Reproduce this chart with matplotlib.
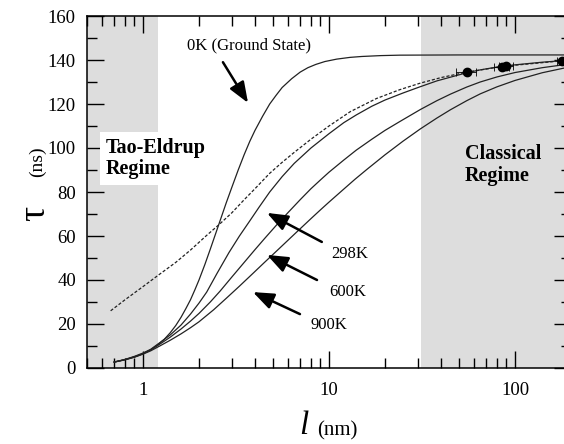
import matplotlib
matplotlib.use("Agg")
import matplotlib.pyplot as plt
import numpy as np

plt.rcParams["font.family"] = ["Liberation Serif", "DejaVu Serif"]

# curves: pore size l (nm) vs lifetime tau (ns)
l_0k = [0.7, 0.8, 0.9, 1.0, 1.1, 1.2, 1.3, 1.4, 1.5, 1.6, 1.7, 1.8, 1.9, 2.0, 2.15, 2.3, 2.55, 2.8,
        3.0, 3.25, 3.5, 3.75, 4.0, 4.4, 4.8, 5.2, 5.6, 6.3, 7, 7.7, 8.5, 9.5, 11, 13, 15, 19, 24, 50, 200]
tau_0k = [2.7, 3.8, 5.0, 6.5, 8.3, 10.5, 13, 16, 19.3, 23, 27, 31, 35.5, 40, 47, 54, 65, 75,
          82, 90, 97, 103, 108, 114.5, 120, 124, 127.5, 131.5, 134.5, 136.5, 138, 139.3, 140.4, 141.2, 141.6, 142, 142.2, 142.3, 142.3]

l_dash = [0.67, 0.8, 1.0, 1.2, 1.5, 1.8, 2.2, 2.55, 3, 3.5, 4, 4.8, 5.6, 6.5, 8, 10, 13, 18, 24, 31, 40, 55, 88, 200]
tau_dash = [26, 31, 37, 42, 48, 53.6, 60.3, 65, 70.5, 76.5, 81.5, 88.5, 93.5, 98, 104, 110, 116.5, 122.5, 126.5, 129.5, 132, 134.5, 137.2, 140]

l_298 = [0.7, 0.8, 0.9, 1.0, 1.1, 1.23, 1.4, 1.6, 1.8, 2.0, 2.2, 2.5, 2.9, 3.3, 3.76, 4.2, 4.8, 5.6, 6.5,
         8, 10, 12, 14, 17, 20, 25, 30.8, 38, 45, 55, 65, 80, 100, 140, 200]
tau_298 = [2.7, 3.9, 5.3, 6.8, 8.5, 11.5, 15, 19.5, 24.5, 29.5, 34.5, 43, 52.5, 60, 67, 73, 80, 87, 93,
           100, 106.5, 111.5, 115, 119, 121.8, 125, 127.8, 130.5, 132.2, 134.2, 135.5, 136.8, 137.8, 139, 140]

l_600 = [0.7, 0.8, 0.9, 1.0, 1.1, 1.23, 1.4, 1.6, 1.8, 2.0, 2.3, 2.6, 3.0, 3.5, 4.0, 4.5, 5.2, 6, 7, 8, 9,
         10, 12, 14, 17, 20, 24, 31, 38, 45, 55, 65, 80, 100, 140, 200]
tau_600 = [2.7, 3.8, 5.1, 6.5, 8.2, 10.8, 14, 17.7, 21.3, 24.8, 30, 35, 41.3, 48, 53.8, 58.8, 64.8, 70.5, 76.5, 81.5, 85.5,
           89, 94.5, 99, 104, 108, 112, 117.5, 121.5, 124.5, 127.7, 130, 132.3, 134.3, 136.5, 138.3]

l_900 = [0.7, 0.8, 0.9, 1.0, 1.1, 1.23, 1.4, 1.6, 1.8, 2.0, 2.4, 2.83, 3.3, 3.9, 4.5, 5.4, 6.2, 7, 8, 9,
         10, 12, 13.8, 16, 20, 25, 31, 38, 45, 55, 65, 80, 100, 140, 200]
tau_900 = [2.7, 3.7, 4.9, 6.3, 7.8, 10, 12.6, 15.5, 18.3, 21, 26.5, 32, 37.2, 43, 48, 54.3, 59.1, 63.3, 67.9, 71.9,
           75.4, 81.3, 85.8, 90.3, 96.9, 103.1, 108.7, 113.6, 117.4, 121.5, 124.6, 127.8, 130.7, 134.2, 137]

# measured points with horizontal error bars
l_pts = [55, 85, 90, 180]
tau_pts = [134.5, 137.0, 137.3, 139.6]
l_err = [7, 8, 8, 12]

fig = plt.figure(figsize=(5.64, 4.44), dpi=100)
ax = fig.add_axes([87 / 564, 1 - 368 / 444, (571 - 87) / 564, (368 - 16) / 444])

ax.axvspan(0.5, 1.2, color="#dddddd", lw=0)
ax.axvspan(31.2, 200, color="#dddddd", lw=0)

ax.plot(l_0k, tau_0k, color="#222222", lw=0.9)
ax.plot(l_dash, tau_dash, color="#222222", lw=0.9, ls=(0, (2.5, 1.5)))
ax.plot(l_298, tau_298, color="#222222", lw=0.9)
ax.plot(l_600, tau_600, color="#222222", lw=0.9)
ax.plot(l_900, tau_900, color="#222222", lw=0.9)
ax.errorbar(l_pts, tau_pts, xerr=l_err, fmt="o", color="black", ms=6,
            elinewidth=0.6, capsize=3, capthick=0.6)

ax.set_xscale("log")
ax.set_xlim(0.5, 200)
ax.set_ylim(0, 160)
ax.set_yticks(np.arange(0, 161, 20))
ax.set_yticks(np.arange(0, 161, 10), minor=True)
ax.set_xticks([1, 10, 100])
ax.set_xticklabels(["1", "10", "100"])
ax.tick_params(which="both", direction="in", top=True, right=True, width=1)
ax.tick_params(which="major", length=12, labelsize=13.5)
ax.tick_params(axis="y", which="major", pad=8)
ax.tick_params(axis="x", which="major", pad=10)
ax.tick_params(which="minor", length=7)
for s in ax.spines.values():
    s.set_linewidth(1.1)

# annotations
ax.text(1.72, 146.8, "0K (Ground State)", fontsize=12, va="center", ha="left")
ax.text(0.632, 95.2, "Tao-Eldrup\nRegime", fontsize=14.5, fontweight="bold",
        va="center", ha="left", linespacing=1.1,
        bbox=dict(facecolor="white", edgecolor="none", pad=4))
ax.text(53.8, 92.3, "Classical\nRegime", fontsize=14.5, fontweight="bold",
        va="center", ha="left", linespacing=1.1)
ax.text(10.24, 51.8, "298K", fontsize=12, va="center", ha="left")
ax.text(10.0, 34.5, "600K", fontsize=12, va="center", ha="left")
ax.text(8.0, 19.5, "900K", fontsize=12, va="center", ha="left")

arrow = dict(arrowstyle="-|>,head_length=0.9,head_width=0.35", color="black", lw=1.8,
             shrinkA=0, shrinkB=0, mutation_scale=14)
ax.annotate("", xy=(3.67, 120.5), xytext=(2.69, 139), arrowprops=arrow)
ax.annotate("", xy=(4.64, 70.5), xytext=(9.15, 57.3), arrowprops=arrow)
ax.annotate("", xy=(4.64, 51.4), xytext=(8.62, 40), arrowprops=arrow)
ax.annotate("", xy=(3.9, 34.5), xytext=(6.98, 24.5), arrowprops=arrow)

# axis labels
fig.text(35 / 564, 1 - 213 / 444, "\u03c4", fontsize=27, rotation=90, ha="center", va="center")
fig.text(37 / 564, 1 - 162 / 444, "(ns)", fontsize=14, rotation=90, ha="center", va="center")
fig.text(304 / 564, 1 - 426 / 444, "l", fontsize=24, style="italic", ha="center", va="center")
fig.text(337 / 564, 1 - 431 / 444, "(nm)", fontsize=15, ha="center", va="center")

fig.savefig("out.png", dpi=100)
